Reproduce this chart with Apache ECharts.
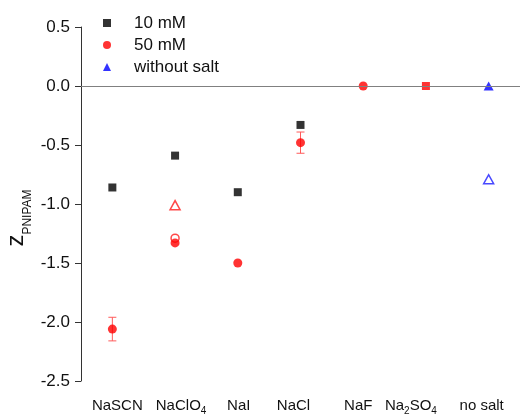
<!DOCTYPE html>
<html>
<head>
<meta charset="utf-8">
<script src="https://cdn.jsdelivr.net/npm/echarts@6/dist/echarts.min.js"></script>
<style>
  html, body { margin: 0; padding: 0; background: #fff; }
  #chart { width: 523px; height: 416px; }
</style>
</head>
<body>
<div id="chart"></div>
<script>
//*************** data ***************
var categories = ['NaSCN', 'NaClO4', 'NaI', 'NaCl', 'NaF', 'Na2SO4', 'no salt'];
var z10 = [-0.86, -0.59, -0.90, -0.33, null, null, null];
var z50 = [-2.06, -1.33, -1.50, -0.48, 0, 0, null];
var err50 = [0.10, 0, 0, 0.09, 0, 0, 0];
var zNoSalt = [null, null, null, null, null, null, 0];
// open symbols (no legend entry)
var openCircleRed = [null, -1.29, null, null, null, null, null];
var openTriRed = [null, -1.01, null, null, null, null, null];
var openTriBlue = [null, null, null, null, null, null, -0.79];

// label nudges, px (styling only)
var labelShift = [5, 6, 1, -7, -5, -15, -7];

//*************** chart ***************
var chart = echarts.init(document.getElementById('chart'));
var font = 'Arial, "Liberation Sans", sans-serif';

var labelRich = {
    s: {fontSize: 10, padding: [10, 0, 0, 0], fontFamily: font, color: '#111'}
};
labelShift.forEach(function (s, i) {
    labelRich['g' + i] = {width: Math.abs(s) * 2};
});

function withErr(vals, errs) {
    var out = [];
    vals.forEach(function (v, i) {
        if (v != null && errs[i] > 0) out.push([i, v - errs[i], v + errs[i]]);
    });
    return out;
}

chart.setOption({
    animation: false,
    grid: {left: 81, right: 3, top: 27, bottom: 35, outerBoundsMode: 'none', containLabel: false},
    legend: {
        orient: 'vertical',
        left: 98,
        top: 9,
        itemWidth: 8,
        itemHeight: 8,
        itemGap: 4,
        selectedMode: false,
        textStyle: {fontSize: 17, fontFamily: font, color: '#111', lineHeight: 18, padding: [0, 0, 0, 18]},
        data: [
            {name: '10 mM', icon: 'rect'},
            {name: '50 mM', icon: 'circle'},
            {name: 'without salt', icon: 'triangle'}
        ]
    },
    xAxis: {
        type: 'category',
        data: categories,
        axisLine: {show: false},
        axisTick: {show: false},
        axisLabel: {
            interval: 0,
            margin: 13,
            fontSize: 15,
            lineHeight: 24,
            fontFamily: font,
            color: '#111',
            rich: labelRich,
            formatter: function (v, i) {
                var t = v.replace(/(\d)/g, '{s|$1}');
                var s = labelShift[i];
                var g = '{g' + i + '|\u200b}';
                return s > 0 ? g + t : t + g;
            }
        }
    },
    yAxis: {
        type: 'value',
        min: -2.5,
        max: 0.5,
        interval: 0.5,
        splitLine: {show: false},
        axisLine: {show: true, lineStyle: {color: '#333', width: 1}},
        axisTick: {show: true, length: 6, lineStyle: {color: '#333'}},
        axisLabel: {
            fontSize: 17,
            margin: 11,
            fontFamily: font,
            color: '#111',
            formatter: function (v) { return v.toFixed(1); }
        },
        name: '{z|z}{p|PNIPAM}',
        nameLocation: 'middle',
        nameGap: 47,
        nameMoveOverlap: false,
        nameTextStyle: {
            padding: [0, 28, 0, 0],
            rich: {
                z: {fontSize: 24, fontFamily: font, color: '#111'},
                p: {fontSize: 12, fontFamily: font, color: '#111', padding: [23, 0, 0, 0]}
            }
        }
    },
    series: [
        {
            name: 'err',
            type: 'custom',
            z: 1,
            data: withErr(z50, err50),
            renderItem: function (params, api) {
                var lo = api.coord([api.value(0), api.value(1)]);
                var hi = api.coord([api.value(0), api.value(2)]);
                var w = 4;
                var st = {stroke: '#ff5a5a', lineWidth: 1};
                return {
                    type: 'group',
                    children: [
                        {type: 'line', shape: {x1: lo[0], y1: lo[1], x2: hi[0], y2: hi[1]}, style: st},
                        {type: 'line', shape: {x1: lo[0] - w, y1: lo[1], x2: lo[0] + w, y2: lo[1]}, style: st},
                        {type: 'line', shape: {x1: hi[0] - w, y1: hi[1], x2: hi[0] + w, y2: hi[1]}, style: st}
                    ]
                };
            }
        },
        {
            name: '10 mM',
            type: 'scatter',
            symbol: 'rect',
            symbolSize: 8,
            itemStyle: {color: '#000'},
            data: z10,
            markLine: {
                silent: true,
                symbol: 'none',
                label: {show: false},
                lineStyle: {color: '#808080', type: 'solid', width: 1},
                data: [{yAxis: 0}]
            }
        },
        {
            name: 'open',
            type: 'scatter',
            symbol: 'circle',
            symbolSize: 8,
            itemStyle: {color: '#fff', borderColor: '#ff1a1a', borderWidth: 1.5},
            data: openCircleRed
        },
        {
            name: '50 mM',
            type: 'scatter',
            symbol: 'circle',
            symbolSize: 9,
            z: 3,
            itemStyle: {color: '#ff0000'},
            data: z50.map(function (v, i) {
                return categories[i] === 'Na2SO4' ? {value: v, symbol: 'rect', symbolSize: 8} : v;
            })
        },
        {
            name: 'openTriRed',
            type: 'scatter',
            symbol: 'triangle',
            symbolSize: [10, 9],
            itemStyle: {color: '#fff', borderColor: '#ff1a1a', borderWidth: 1.5},
            data: openTriRed
        },
        {
            name: 'openTriBlue',
            type: 'scatter',
            symbol: 'triangle',
            symbolSize: [10, 9],
            itemStyle: {color: '#fff', borderColor: '#1a1aff', borderWidth: 1.5},
            data: openTriBlue
        },
        {
            name: 'without salt',
            type: 'scatter',
            symbol: 'triangle',
            symbolSize: [10, 9],
            z: 3,
            itemStyle: {color: '#0000ff'},
            data: zNoSalt
        }
    ]
});
</script>
</body>
</html>
